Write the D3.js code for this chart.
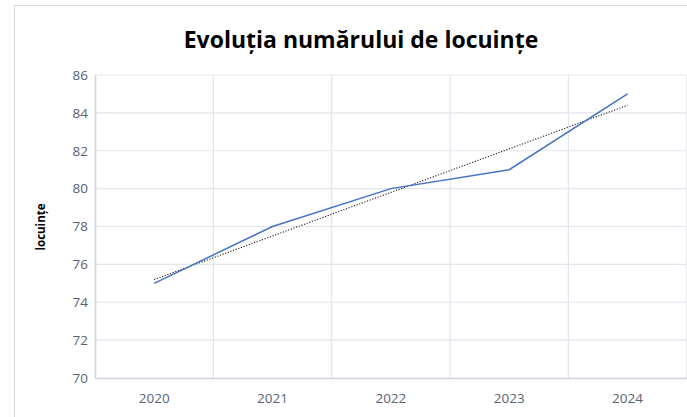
<!DOCTYPE html>
<html>
<head>
<meta charset="utf-8">
<script src="https://cdn.jsdelivr.net/npm/d3@7"></script>
<style>
  body { margin: 0; background: #fff; }
  svg { display: block; }
</style>
</head>
<body>
<svg></svg>
<script>
// data
const years = ["2020", "2021", "2022", "2023", "2024"];
const values = [75, 78, 80, 81, 85];
const yTicks = [70, 72, 74, 76, 78, 80, 82, 84, 86];

const w = 687;
const h = 417;
const plotLeft = 95, plotRight = 686.7, plotTop = 75, plotBottom = 378;

const svg = d3.select('svg')
    .attr('width', w)
    .attr('height', h);

// chart border (runs off the right and bottom)
svg.append('rect')
    .attr('x', 14.5).attr('y', 5.5)
    .attr('width', 720).attr('height', 500)
    .attr('fill', '#fff')
    .attr('stroke', '#d9d9d9');

const xScale = d3.scaleBand()
    .domain(years)
    .range([plotLeft, plotRight]);

const yScale = d3.scaleLinear()
    .domain([70, 86])
    .range([plotBottom, plotTop]);

// horizontal gridlines
svg.append('g')
    .selectAll('line')
    .data(yTicks.slice(1))
    .enter()
    .append('line')
    .attr('x1', plotLeft).attr('x2', plotRight)
    .attr('y1', d => yScale(d)).attr('y2', d => yScale(d))
    .attr('stroke', '#e1e5ec')
    .attr('stroke-width', 1.2);

// vertical gridlines at the band edges
svg.append('g')
    .selectAll('line')
    .data(years)
    .enter()
    .append('line')
    .attr('x1', d => xScale(d) + xScale.bandwidth())
    .attr('x2', d => xScale(d) + xScale.bandwidth())
    .attr('y1', plotTop).attr('y2', plotBottom)
    .attr('stroke', '#e1e5ec')
    .attr('stroke-width', 1.2);

// axes
const yAxis = d3.axisLeft(yScale).tickValues(yTicks).tickSize(0).tickPadding(7);
const gy = svg.append('g')
    .attr('transform', 'translate(' + plotLeft + ',0)')
    .call(yAxis);
gy.select('.domain').attr('stroke', '#cdd4e0').attr('stroke-width', 1.6);

const xAxis = d3.axisBottom(xScale).tickSize(0).tickPadding(15);
const gx = svg.append('g')
    .attr('transform', 'translate(0,' + plotBottom + ')')
    .call(xAxis);
gx.select('.domain').attr('stroke', '#cdd4e0').attr('stroke-width', 1.6);

svg.selectAll('.tick text')
    .attr('fill', '#5a6275')
    .style('font-family', '"Open Sans", sans-serif')
    .style('font-size', '13.5px');

const cx = d => xScale(d) + xScale.bandwidth() / 2;

// linear trend line (least squares over the series)
const xs = years.map((d, i) => i);
const mx = d3.mean(xs), my = d3.mean(values);
const slope = d3.sum(xs, (x, i) => (x - mx) * (values[i] - my)) / d3.sum(xs, x => (x - mx) * (x - mx));
const trend = xs.map(x => my + slope * (x - mx));

const line = d3.line()
    .x((d, i) => cx(years[i]))
    .y(d => yScale(d));

svg.append('path')
    .datum(trend)
    .attr('d', line)
    .attr('fill', 'none')
    .attr('stroke', '#222')
    .attr('stroke-width', 1.1)
    .attr('stroke-dasharray', '1.2 1.6');

svg.append('path')
    .datum(values)
    .attr('d', line)
    .attr('fill', 'none')
    .attr('stroke', '#4472c4')
    .attr('stroke-width', 1.5);

// title
svg.append('text')
    .attr('x', 361)
    .attr('y', 48)
    .attr('text-anchor', 'middle')
    .style('font-family', '"Open Sans", sans-serif')
    .style('font-weight', 'bold')
    .style('font-size', '23px')
    .attr('fill', '#000')
    .text('Evoluția numărului de locuințe');

// y-axis label
svg.append('text')
    .attr('transform', 'translate(45,227) rotate(-90)')
    .attr('text-anchor', 'middle')
    .style('font-family', '"Open Sans", sans-serif')
    .style('font-weight', 'bold')
    .style('font-size', '11.5px')
    .attr('fill', '#000')
    .text('locuințe');
</script>
</body>
</html>
